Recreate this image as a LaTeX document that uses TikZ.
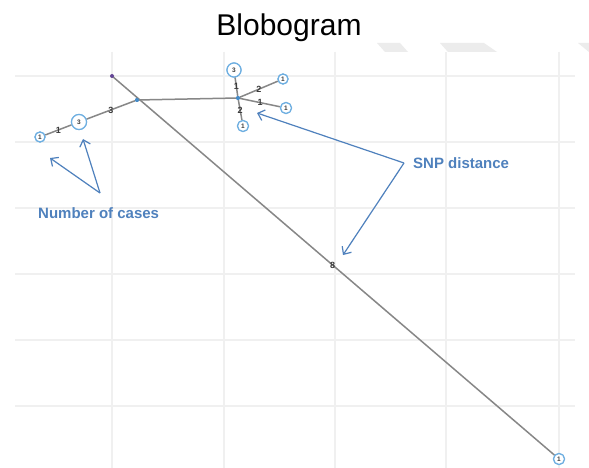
\documentclass[tikz,border=0pt]{standalone}
\usepackage{fontspec}
\setmainfont{Liberation Sans}
\usetikzlibrary{arrows.meta}
\definecolor{gridc}{RGB}{240,240,240}
\definecolor{ribc}{RGB}{236,236,236}
\definecolor{edgec}{RGB}{135,135,135}
\definecolor{blobc}{RGB}{110,175,225}
\definecolor{annc}{RGB}{79,129,189}
\definecolor{dotc}{RGB}{70,140,200}
\definecolor{startc}{RGB}{100,70,150}
\definecolor{labc}{RGB}{60,60,60}
\tikzset{
  gridline/.style={gridc, line width=1.6pt},
  tedge/.style={edgec, line width=1.5pt},
  blob/.style={circle, draw=blobc, fill=white, line width=1.2pt, inner sep=0pt,
    font=\fontsize{6.5}{6.5}\selectfont\bfseries, text=labc},
  jdot/.style={circle, fill=dotc, inner sep=0pt, minimum size=4pt},
  elab/.style={font=\fontsize{9}{9}\selectfont\bfseries, text=labc, inner sep=0pt},
  ann/.style={annc, line width=1.2pt, -{Straight Barb[length=6pt,width=11pt]}},
  anntext/.style={font=\fontsize{15}{15}\selectfont\bfseries, text=annc, inner sep=0pt},
}
\begin{document}
\begin{tikzpicture}[x=1pt,y=-1pt]
\useasboundingbox (0,0) rectangle (589,468);
\fill[white] (0,0) rectangle (589,468);
% watermark ribbons
\fill[ribc] (377,43) -- (400,43) -- (408,52) -- (385,52) -- cycle;
\fill[ribc] (440,43) -- (484,43) -- (497,52) -- (448,52) -- cycle;
\fill[ribc] (578,43) -- (589,43) -- (589,52) -- cycle;
% grid
\foreach \gx in {112,224,335,446,559} \draw[gridline] (\gx,52) -- (\gx,468);
\foreach \gy in {76,142,208,274,340,406} \draw[gridline] (15,\gy) -- (575,\gy);
% title
\node[font=\fontsize{30}{30}\selectfont, anchor=base] (title) at (289,36) {Blobogram};
% tree nodes
\coordinate (start) at (112,76);
\node[blob, minimum size=10pt] (l1) at (40,137) {1};
\node[blob, minimum size=15pt] (n3) at (79,122) {3};
\node[jdot] (j1) at (137,100) {};
\node[jdot] (j2) at (238,98) {};
\node[blob, minimum size=14pt] (t3) at (234,70) {3};
\node[blob, minimum size=10pt] (r1) at (283,79) {1};
\node[blob, minimum size=11pt] (r2) at (286,108) {1};
\node[blob, minimum size=11pt] (b1) at (243,126) {1};
\node[blob, minimum size=11pt] (e1) at (559,459) {1};
% edges
\draw[tedge] (start) -- node[elab, pos=0.499] {8} (e1);
\draw[tedge] (l1) -- node[elab] {1} (n3);
\draw[tedge] (n3) -- node[elab] {3} (j1);
\draw[tedge] (j1) -- (j2);
\draw[tedge] (j2) -- node[elab] {1} (t3);
\draw[tedge] (j2) -- node[elab] {2} (r1);
\draw[tedge] (j2) -- node[elab] {1} (r2);
\draw[tedge] (j2) -- node[elab] {2} (b1);
% redraw nodes on top
\node[blob, minimum size=10pt] at (l1) {1};
\node[blob, minimum size=15pt] at (n3) {3};
\node[blob, minimum size=14pt] at (t3) {3};
\node[blob, minimum size=10pt] at (r1) {1};
\node[blob, minimum size=11pt] at (r2) {1};
\node[blob, minimum size=11pt] at (b1) {1};
\node[blob, minimum size=11pt] at (e1) {1};
\node[jdot] at (j1) {};
\node[jdot] at (j2) {};
\node[circle, fill=startc, inner sep=0pt, minimum size=4pt] (sd) at (start) {};
% annotations
\node[anntext, anchor=west] (noc) at (38,213) {Number of cases};
\node[anntext, anchor=west] (snp) at (413,163) {SNP distance};
\coordinate (nt) at (100,193);
\coordinate (nh1) at (50,158);
\coordinate (nh2) at (83,139);
\coordinate (st) at (404,163);
\coordinate (sh1) at (257,113);
\coordinate (sh2) at (343,255);
\draw[ann] (nt) -- (nh1);
\draw[ann] (nt) -- (nh2);
\draw[ann] (st) -- (sh1);
\draw[ann] (st) -- (sh2);
\end{tikzpicture}
\end{document}
